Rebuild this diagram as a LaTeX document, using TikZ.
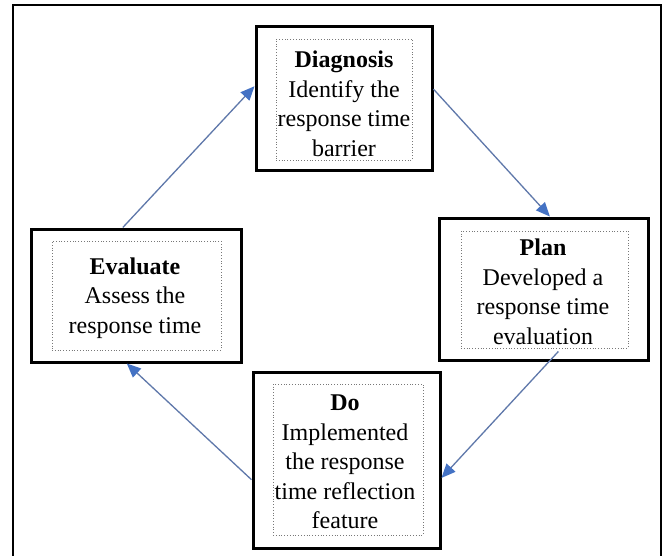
\documentclass[tikz,border=0pt]{standalone}
\usepackage{fontspec}
\setmainfont{Liberation Serif}
\usetikzlibrary{arrows.meta,calc}
\definecolor{arrowblue}{RGB}{68,114,196}
\definecolor{linegray}{RGB}{95,120,170}
\definecolor{dotgray}{RGB}{120,120,120}
\begin{document}
\begin{tikzpicture}[x=1pt,y=-1pt,
  outerbox/.style={draw=black, line width=3pt, fill=white, inner sep=0pt},
  innerbox/.style={draw=dotgray, dotted, line width=0.8pt, inner sep=0pt},
  txt/.style={align=center, inner sep=0pt, font=\fontsize{24}{29.5}\selectfont},
  arr/.style={draw=linegray, line width=1.3pt, -{Triangle[length=14pt,width=12pt,fill=arrowblue,color=arrowblue]}}
]
\useasboundingbox (0,0) rectangle (666,555);
\fill[white] (0,0) rectangle (666,555);
\draw[line width=2.5pt] (13,570) -- (13,5) -- (661,5) -- (661,570);

% outer boxes
\node[outerbox, minimum width=176pt, minimum height=144pt] (diag) at (344,98) {};
\node[outerbox, minimum width=209pt, minimum height=142pt] (plan) at (543.5,289) {};
\node[outerbox, minimum width=210pt, minimum height=133pt] (eval) at (136,295.5) {};
\node[outerbox, minimum width=187pt, minimum height=176pt] (do) at (346.5,460) {};

% inner dotted boxes
\node[innerbox, minimum width=136pt, minimum height=121pt] (diagin) at (344,99.5) {};
\node[innerbox, minimum width=167pt, minimum height=117pt] (planin) at (544.5,289.5) {};
\node[innerbox, minimum width=169pt, minimum height=109pt] (evalin) at (136.5,295.5) {};
\node[innerbox, minimum width=150pt, minimum height=151pt] (doin) at (348,459.5) {};

% texts
\node[txt] (diagt) at (344,104) {\textbf{Diagnosis}\\Identify the\\response time\\barrier};
\node[txt] (plant) at (543,292) {\textbf{Plan}\\Developed a\\response time\\evaluation};
\node[txt] (evalt) at (135,298) {\textbf{Evaluate}\\Assess the\\response time};
\node[txt] (dot) at (345,462) {\textbf{Do}\\Implemented\\the response\\time reflection\\feature};

% arrows
\draw[arr] ($(eval.north west)!0.438!(eval.north east)$) -- ($(diag.north west)!0.42!(diag.south west)$);
\draw[arr] ($(diag.north east)!0.44!(diag.south east)$) -- ($(plan.north west)!0.53!(plan.north east)$);
\draw[arr] ($(plan.south west)!0.57!(plan.south east)+(0,-10)$) -- ($(do.north east)!0.6!(do.south east)$);
\draw[arr] ($(do.north west)!0.61!(do.south west)$) -- ($(eval.south west)!0.457!(eval.south east)$);
\end{tikzpicture}
\end{document}
